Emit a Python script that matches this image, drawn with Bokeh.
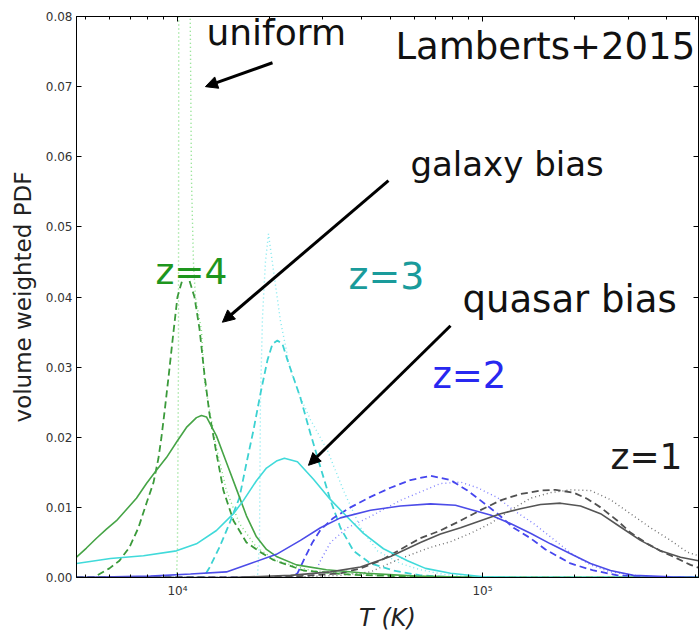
from bokeh.plotting import figure
from bokeh.models import (Range1d, FixedTicker, LinearAxis, LogAxis, Label, Arrow,
                          NormalHead, PrintfTickFormatter, CustomJSTickFormatter)
from bokeh.embed import file_html
from bokeh.resources import INLINE

# ---------------- data (temperature T in K, volume weighted PDF) ----------------
z4_quasar_T = [4667, 5031, 5426, 5851, 6310, 6805, 7338, 7914, 8533, 9203, 10000, 10703,
               11542, 11987, 12448, 13424, 14476, 15612, 16835, 18155, 19580, 21110, 24560,
               30800, 41660, 60760, 100000, 510800]
z4_quasar_pdf = [0.0029, 0.0042, 0.0056, 0.0069, 0.0081, 0.0097, 0.0113, 0.0134, 0.0153, 0.0171,
                 0.0195, 0.0214, 0.0228, 0.0231, 0.0229, 0.0202, 0.0164, 0.0126, 0.0088, 0.0058,
                 0.0040, 0.0030, 0.0018, 0.0011, 0.0006, 0.0002, 0.0, 0.0]

z4_galaxy_T = [4667, 5305, 5984, 6454, 6959, 7449, 7914, 8342, 8663, 8862, 9065, 9344, 9703,
               10000, 10464, 10866, 11370, 11808, 12260, 12730, 13424, 14152, 15265, 16835,
               18575, 20640, 25890, 36920, 62600, 114600, 510800]
z4_galaxy_pdf = [0.0, 0.0, 0.0013, 0.0024, 0.0043, 0.0071, 0.0106, 0.0135, 0.0170, 0.0200,
                 0.0235, 0.0285, 0.0350, 0.0400, 0.0430, 0.0428, 0.0400, 0.0355, 0.0290, 0.0234,
                 0.0177, 0.0124, 0.0081, 0.0050, 0.0037, 0.0025, 0.0010, 0.0004, 0.0001, 0.0, 0.0]

z4_uniform_T = [4667, 9930, 10000, 10076, 10100, 10540, 10990, 11115, 11283, 11456, 11987,
                12260, 13424, 14476, 15970, 18155, 21110, 27300, 46300, 100000, 510800]
z4_uniform_pdf = [0.0, 0.0, 0.004, 0.030, 0.085, 0.100, 0.085, 0.057, 0.045, 0.040, 0.0352,
                  0.028, 0.0185, 0.0124, 0.0077, 0.0043, 0.0024, 0.0010, 0.0003, 0.0, 0.0]

z3_quasar_T = [4667, 6030, 7736, 9925, 11542, 13424, 15265, 16460, 18155, 19580, 21110, 22420,
               24740, 27920, 31750, 36100, 40730, 47360, 56770, 65030, 78560, 100800, 133200,
               510800]
z3_quasar_pdf = [0.0020, 0.0027, 0.0031, 0.0038, 0.0048, 0.0067, 0.0091, 0.0110, 0.0138, 0.0156,
                 0.0166, 0.0170, 0.0165, 0.0140, 0.0111, 0.0086, 0.0063, 0.0041, 0.0024, 0.0013,
                 0.0006, 0.0001, 0.0, 0.0]

z3_galaxy_T = [4667, 12168, 12730, 13730, 14810, 15970, 16835, 17750, 18710, 19730, 20490,
               21270, 22090, 22950, 25310, 27300, 29440, 31750, 34220, 37760, 42950, 51080,
               62600, 84730, 510800]
z3_galaxy_pdf = [0.0, 0.0, 0.0014, 0.0043, 0.0077, 0.0114, 0.0163, 0.0210, 0.0262, 0.0310,
                 0.0333, 0.0338, 0.0333, 0.0310, 0.0256, 0.0205, 0.0157, 0.0110, 0.0071, 0.0038,
                 0.0020, 0.0010, 0.0003, 0.0, 0.0]

z3_uniform_T = [4667, 18290, 18575, 18710, 18998, 19430, 19880, 20640, 21760, 23480, 25310,
                27300, 31040, 35030, 39810, 45260, 53830, 62600, 75630, 98490, 510800]
z3_uniform_pdf = [0.0, 0.0, 0.005, 0.025, 0.037, 0.045, 0.049, 0.0438, 0.0366, 0.0295, 0.0257,
                  0.0225, 0.0181, 0.0124, 0.0071, 0.0038, 0.0020, 0.0011, 0.0004, 0.0, 0.0]

z2_quasar_T = [4667, 8156, 11030, 14476, 17350, 21110, 25310, 29440, 34220, 42950, 53830, 67530,
               81560, 91340, 106200, 123500, 143700, 167100, 194400, 226100, 262900, 312700,
               413400, 510800]
z2_quasar_pdf = [0.0, 0.0002, 0.0005, 0.0008, 0.0020, 0.0033, 0.0053, 0.0071, 0.0085, 0.0096,
                 0.0102, 0.0105, 0.0103, 0.0097, 0.0089, 0.0077, 0.0063, 0.0048, 0.0034, 0.0020,
                 0.0010, 0.0003, 0.0001, 0.0]

z2_galaxy_T = [4667, 23480, 24740, 26290, 27710, 29440, 32470, 36920, 42950, 49940, 58050, 67530,
               78560, 89290, 98490, 112000, 126400, 143700, 160900, 194400, 231200, 277100,
               355500, 510800]
z2_galaxy_pdf = [0.0, 0.0, 0.0006, 0.0030, 0.0050, 0.0068, 0.0085, 0.0100, 0.0115, 0.0128,
                 0.0139, 0.0145, 0.0139, 0.0124, 0.0110, 0.0091, 0.0071, 0.0056, 0.0040, 0.0020,
                 0.0010, 0.0003, 0.0, 0.0]

z2_uniform_T = [4667, 26290, 28350, 29440, 31750, 36100, 42950, 53830, 62600, 72830, 84730,
                96300, 112000, 126400, 147000, 167100, 194400, 226100, 262900, 329600, 445900,
                510800]
z2_uniform_pdf = [0.0, 0.0, 0.0008, 0.0024, 0.0050, 0.0071, 0.0087, 0.0110, 0.0122, 0.0134,
                  0.0136, 0.0128, 0.0114, 0.0096, 0.0077, 0.0058, 0.0035, 0.0018, 0.0008, 0.0002,
                  0.0, 0.0]

z1_quasar_T = [4667, 14922, 23480, 31750, 39810, 49940, 62600, 72830, 84730, 98490, 114600,
               133200, 155000, 180200, 209600, 243800, 283500, 329600, 383300, 445900, 510800]
z1_quasar_pdf = [0.0, 0.0, 0.0003, 0.0008, 0.0015, 0.0030, 0.0050, 0.0062, 0.0071, 0.0081,
                 0.0091, 0.0098, 0.0104, 0.0106, 0.0102, 0.0091, 0.0072, 0.0053, 0.0038, 0.0029,
                 0.0024]

z1_galaxy_T = [4667, 17350, 25310, 34220, 39810, 46300, 53830, 62600, 72830, 84730, 98490,
               114600, 133200, 155000, 173500, 198800, 221000, 243800, 277100, 305600, 347500,
               383300, 435900, 480800, 510800]
z1_galaxy_pdf = [0.0, 0.0, 0.0002, 0.0006, 0.0013, 0.0024, 0.0040, 0.0056, 0.0067, 0.0081,
                 0.0096, 0.0110, 0.0119, 0.0124, 0.0125, 0.0121, 0.0112, 0.0100, 0.0081, 0.0064,
                 0.0048, 0.0038, 0.0027, 0.0018, 0.0014]

z1_uniform_T = [4667, 21760, 34220, 42950, 53830, 67530, 78560, 91340, 106200, 123500, 143700,
                167100, 194400, 226100, 262900, 305600, 355500, 413400, 470000, 510800]
z1_uniform_pdf = [0.0, 0.0, 0.0003, 0.0008, 0.0027, 0.0043, 0.0051, 0.0063, 0.0077, 0.0096,
                  0.0113, 0.0121, 0.0125, 0.0124, 0.0111, 0.0091, 0.0071, 0.0053, 0.0036, 0.0031]

y_ticks = [0.0, 0.01, 0.02, 0.03, 0.04, 0.05, 0.06, 0.07, 0.08]
x_ticks = [1e4, 1e5]
x_tick_labels = ["10\u2074", "10\u2075"]
x_minor_ticks = [5e3, 6e3, 7e3, 8e3, 9e3, 2e4, 3e4, 4e4, 5e4, 6e4, 7e4, 8e4, 9e4,
                 2e5, 3e5, 4e5, 5e5]

# annotations: (text, T, pdf, colour, font size)
labels = [
    ("uniform", 12448, 0.0777, "#111111", "36px"),
    ("Lamberts+2015", 51850, 0.0757, "#111111", "37px"),
    ("galaxy bias", 58050, 0.0590, "#111111", "34px"),
    ("quasar bias", 86000, 0.0396, "#111111", "37px"),
    ("z=4", 8470, 0.0436, "#1e961e", "36px"),
    ("z=3", 36370, 0.0430, "#1a9b9b", "38px"),
    ("z=2", 68550, 0.0288, "#2828f0", "37px"),
    ("z=1", 262900, 0.0173, "#1a1a1a", "36px"),
]
arrows = [  # (T_start, pdf_start, T_end, pdf_end)
    (20490, 0.0734, 12350, 0.0700),
    (49180, 0.0566, 14040, 0.0364),
    (78560, 0.0359, 26890, 0.0160),
]

# ---------------- figure ----------------
p = figure(width=700, height=635, x_axis_type="log",
           x_range=Range1d(4667, 510800), y_range=Range1d(0, 0.08),
           output_backend="svg", toolbar_location=None,
           min_border_left=76, min_border_right=2, min_border_top=16, min_border_bottom=58)
p.xgrid.visible = False
p.ygrid.visible = False
p.outline_line_color = "black"
p.outline_line_width = 1
p.background_fill_color = "white"
p.border_fill_color = "white"

series = [
    (z4_uniform_T, z4_uniform_pdf, "#7ddc7d", "1 3", 1.4),
    (z3_uniform_T, z3_uniform_pdf, "#7ee8ee", "1 3", 1.4),
    (z2_uniform_T, z2_uniform_pdf, "#7f7fff", "1 3", 1.4),
    (z1_uniform_T, z1_uniform_pdf, "#707070", "1 3", 1.4),
    (z4_galaxy_T, z4_galaxy_pdf, "#3a9a3a", "7 4", 1.8),
    (z3_galaxy_T, z3_galaxy_pdf, "#3cd2d2", "7 4", 1.8),
    (z2_galaxy_T, z2_galaxy_pdf, "#4646ee", "7 4", 1.8),
    (z1_galaxy_T, z1_galaxy_pdf, "#505050", "7 4", 1.8),
    (z4_quasar_T, z4_quasar_pdf, "#46a446", "solid", 1.6),
    (z3_quasar_T, z3_quasar_pdf, "#40dada", "solid", 1.6),
    (z2_quasar_T, z2_quasar_pdf, "#4c4ce8", "solid", 1.6),
    (z1_quasar_T, z1_quasar_pdf, "#555555", "solid", 1.6),
]
for xs, ys, col, dash, lw in series:
    p.line(xs, ys, line_color=col, line_dash=dash, line_width=lw)

# axes
tick_fmt = CustomJSTickFormatter(args=dict(vals=x_ticks, labs=x_tick_labels), code="""
    for (let i = 0; i < vals.length; i++) { if (Math.abs(tick - vals[i]) < 1) return labs[i]; }
    return '';
""")
blank_fmt = CustomJSTickFormatter(code="return ' ';")
xa = p.xaxis[0]
xa.ticker = FixedTicker(ticks=x_ticks, minor_ticks=x_minor_ticks)
xa.formatter = tick_fmt
xa.axis_label = "T (K)"
xa.axis_label_text_font = "DejaVu Sans"
xa.axis_label_text_font_size = "24px"
xa.axis_label_text_font_style = "italic"
xa.axis_label_text_color = "#222222"
xa.axis_label_standoff = 3

ya = p.yaxis[0]
ya.ticker = FixedTicker(ticks=y_ticks)
ya.formatter = PrintfTickFormatter(format="%.2f")
ya.axis_label = "volume weighted PDF"
ya.axis_label_text_font = "DejaVu Sans"
ya.axis_label_text_font_size = "23px"
ya.axis_label_text_font_style = "normal"
ya.axis_label_text_color = "#222222"
ya.axis_label_standoff = 7

top = LogAxis(ticker=FixedTicker(ticks=x_ticks, minor_ticks=x_minor_ticks), formatter=blank_fmt)
right = LinearAxis(ticker=FixedTicker(ticks=y_ticks), formatter=blank_fmt)
p.add_layout(top, "above")
p.add_layout(right, "right")

for ax in (xa, ya, top, right):
    ax.axis_line_color = "black"
    ax.major_tick_line_color = "black"
    ax.major_tick_in = 5
    ax.major_tick_out = 0
    ax.minor_tick_line_color = "black"
    ax.minor_tick_in = 3
    ax.minor_tick_out = 0
    ax.major_label_text_font = "DejaVu Sans"
    ax.major_label_text_font_size = "12px"
    ax.major_label_text_color = "#333333"
for ax in (ya, right):
    ax.minor_tick_line_color = None
for ax in (top, right):
    ax.major_label_text_font_size = "1px"
    ax.major_label_text_color = None
    ax.major_label_standoff = 0
xa.major_label_standoff = 6
ya.major_label_standoff = 4

for txt, tx, ty, col, fs in labels:
    p.add_layout(Label(x=tx, y=ty, text=txt, text_font="DejaVu Sans", text_font_size=fs,
                       text_color=col, text_baseline="alphabetic"))

for xs, ys, xe, ye in arrows:
    p.add_layout(Arrow(end=NormalHead(size=12, fill_color="black", line_color="black"),
                       x_start=xs, y_start=ys, x_end=xe, y_end=ye,
                       line_color="black", line_width=3))

open("out.html", "w").write(file_html(p, INLINE))
